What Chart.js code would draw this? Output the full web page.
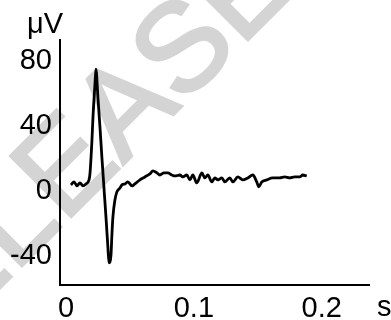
<!DOCTYPE html>
<html><head><meta charset="utf-8">
<script src="https://cdn.jsdelivr.net/npm/chart.js@4/dist/chart.umd.min.js"></script>
<style>html,body{margin:0;padding:0;background:#fff;overflow:hidden;} canvas{display:block;}</style>
</head><body>
<canvas id="c" width="391" height="320"></canvas>
<script>
const timeS = [0.0039,0.0063,0.0086,0.0109,0.0133,0.0156,0.0180,0.0188,0.0203,0.0211,0.0227,0.0234,0.0250,0.0266,0.0281,0.0297,0.0313,0.0328,0.0336,0.0352,0.0359,0.0367,0.0383,0.0398,0.0422,0.0438,0.0461,0.0484,0.0516,0.0539,0.0578,0.0617,0.0656,0.0680,0.0711,0.0734,0.0766,0.0797,0.0828,0.0852,0.0891,0.0914,0.0945,0.0969,0.0992,0.1023,0.1063,0.1086,0.1109,0.1141,0.1164,0.1188,0.1219,0.1242,0.1281,0.1305,0.1344,0.1383,0.1422,0.1461,0.1492,0.1508,0.1531,0.1570,0.1617,0.1672,0.1711,0.1750,0.1789,0.1828,0.1852,0.1883];
const microvolts = [3.7,5.5,3.1,4.9,3.1,4.3,6.8,11.1,31.4,45.5,66.5,75.1,57.2,38.8,20.3,1.8,-16.6,-35.1,-44.3,-39.4,-27.1,-16.0,-5.5,-0.6,1.8,3.7,4.3,5.5,3.1,4.3,6.8,8.6,10.5,12.3,11.1,9.8,11.1,11.1,9.8,9.2,9.8,8.6,9.8,6.8,9.8,4.9,11.1,8.0,9.8,5.5,8.0,6.8,8.0,5.5,8.0,5.5,8.6,6.8,8.0,9.8,5.5,2.5,5.5,6.8,8.0,8.0,8.6,8.0,8.6,8.6,9.8,9.2];
const xTicks = [0, 0.1, 0.2];
const yTicks = [-40, 0, 40, 80];
const xUnit = 's';
const yUnit = 'μV';
const watermark = 'RELEASE';

const FONT = '"Liberation Sans", Arial, sans-serif';

const extras = {
  id: 'extras',
  beforeDraw(chart) {
    const ctx = chart.ctx;
    ctx.save();
    ctx.fillStyle = '#d4d4d4';
    ctx.strokeStyle = '#d4d4d4';
    ctx.lineWidth = 3;
    ctx.lineJoin = 'miter';
    ctx.font = '125px ' + FONT;
    ctx.translate(64, 224);
    ctx.rotate(-45 * Math.PI / 180);
    const pre = ctx.measureText(watermark.slice(0, 3)).width;
    ctx.textBaseline = 'alphabetic';
    ctx.fillText(watermark, -pre, 0);
    ctx.strokeText(watermark, -pre, 0);
    ctx.restore();
  },
  afterDraw(chart) {
    const ctx = chart.ctx;
    ctx.save();
    ctx.fillStyle = '#000';
    ctx.font = '29px ' + FONT;
    ctx.textBaseline = 'alphabetic';
    ctx.textAlign = 'left';
    ctx.fillText(yUnit, 27, 33);
    ctx.fillText(xUnit, 377, 316);
    ctx.restore();
  }
};

new Chart(document.getElementById('c'), {
  type: 'line',
  data: {
    datasets: [{
      data: timeS.map((t, i) => ({x: t, y: microvolts[i]})),
      borderColor: '#000',
      borderWidth: 2.8,
      pointRadius: 0,
      fill: false,
      cubicInterpolationMode: 'monotone'
    }]
  },
  options: {
    responsive: false,
    animation: false,
    layout: {padding: {top: 40, right: 22, left: 0, bottom: 0}},
    plugins: {legend: {display: false}, tooltip: {enabled: false}},
    scales: {
      x: {
        type: 'linear',
        min: -0.0047,
        max: 0.237,
        afterBuildTicks: s => { s.ticks = xTicks.map(v => ({value: v})); },
        afterFit: s => { s.height = 35; },
        ticks: {font: {size: 29, family: FONT}, color: '#000', padding: 7, maxRotation: 0, autoSkip: false, callback: v => String(v)},
        grid: {display: false, drawTicks: false},
        border: {display: true, color: '#000', width: 2}
      },
      y: {
        min: -58,
        max: 93,
        afterBuildTicks: s => { s.ticks = yTicks.map(v => ({value: v})); },
        afterFit: s => { s.width = 60; },
        ticks: {font: {size: 29, family: FONT}, color: '#000', padding: 8, autoSkip: false, callback: v => String(v)},
        grid: {display: false, drawTicks: false},
        border: {display: true, color: '#000', width: 2}
      }
    }
  },
  plugins: [extras]
});
</script>
</body></html>
